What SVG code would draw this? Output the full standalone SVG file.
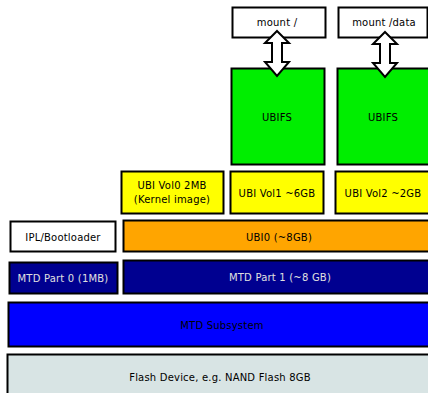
<svg xmlns="http://www.w3.org/2000/svg" width="428" height="393" viewBox="0 0 428 393">
  <style>
    .box { stroke: #000; stroke-width: 2; }
    .lbl { font-family: "DejaVu Sans", sans-serif; font-size: 10px; letter-spacing: 0.2px; text-anchor: middle; dominant-baseline: central; fill: #000; }
    .lt { fill: #e0e0e0; }
    .arrow { fill: #fff; stroke: #000; stroke-width: 2; stroke-linejoin: miter; }
  </style>
  <rect width="428" height="393" fill="#fff"/>

  <g id="mount-root">
    <rect class="box" x="232.5" y="7.5" width="93" height="30" fill="#fff"/>
    <text class="lbl" x="277" y="22">mount /</text>
  </g>
  <g id="mount-data">
    <rect class="box" x="338.5" y="7.5" width="89" height="30" fill="#fff"/>
    <text class="lbl" x="384" y="22">mount /data</text>
  </g>

  <g id="ubifs-1">
    <rect class="box" x="231.5" y="68.5" width="93" height="96" fill="#00ee00"/>
    <text class="lbl" x="277" y="117">UBIFS</text>
  </g>
  <g id="ubifs-2">
    <rect class="box" x="337.5" y="68.5" width="95" height="96" fill="#00ee00"/>
    <text class="lbl" x="383" y="117">UBIFS</text>
  </g>

  <g id="connectors">
    <path class="arrow" d="M277 31 L289 43 L282 43 L282 62 L289 62 L277 76 L265 62 L272 62 L272 43 L265 43 Z"/>
    <path class="arrow" d="M385 32 L397 44 L390 44 L390 63 L397 63 L385 77 L373 63 L380 63 L380 44 L373 44 Z"/>
  </g>

  <g id="ubi-vol0">
    <rect class="box" x="121.5" y="171.5" width="102" height="42" fill="#ffff00"/>
    <text class="lbl" x="172" y="185">UBI Vol0 2MB</text>
    <text class="lbl" x="172" y="199">(Kernel image)</text>
  </g>
  <g id="ubi-vol1">
    <rect class="box" x="230.5" y="171.5" width="93" height="42" fill="#ffff00"/>
    <text class="lbl" x="277" y="193">UBI Vol1 ~6GB</text>
  </g>
  <g id="ubi-vol2">
    <rect class="box" x="335.5" y="171.5" width="96" height="42" fill="#ffff00"/>
    <text class="lbl" x="383" y="193">UBI Vol2 ~2GB</text>
  </g>

  <g id="bootloader">
    <rect class="box" x="10.5" y="221.5" width="105" height="30" fill="#fff"/>
    <text class="lbl" x="63" y="237">IPL/Bootloader</text>
  </g>
  <g id="ubi0">
    <rect class="box" x="123.5" y="220.5" width="315" height="31" fill="#ffa500"/>
    <text class="lbl" x="279" y="237">UBI0 (~8GB)</text>
  </g>

  <g id="mtd-part0">
    <rect class="box" x="9.5" y="262.5" width="108" height="31" fill="#000090"/>
    <text class="lbl lt" x="63" y="278">MTD Part 0 (1MB)</text>
  </g>
  <g id="mtd-part1">
    <rect class="box" x="123.5" y="260.5" width="315" height="33" fill="#000090"/>
    <text class="lbl lt" x="280" y="277">MTD Part 1 (~8 GB)</text>
  </g>

  <g id="mtd-subsystem">
    <rect class="box" x="8.5" y="302.5" width="430" height="44" fill="#0000ff"/>
    <text class="lbl" x="222" y="325">MTD Subsystem</text>
  </g>

  <g id="flash-device">
    <rect class="box" x="7.5" y="354.5" width="430" height="45" fill="#d8e4e4"/>
    <text class="lbl" x="220" y="377">Flash Device, e.g. NAND Flash 8GB</text>
  </g>
</svg>
